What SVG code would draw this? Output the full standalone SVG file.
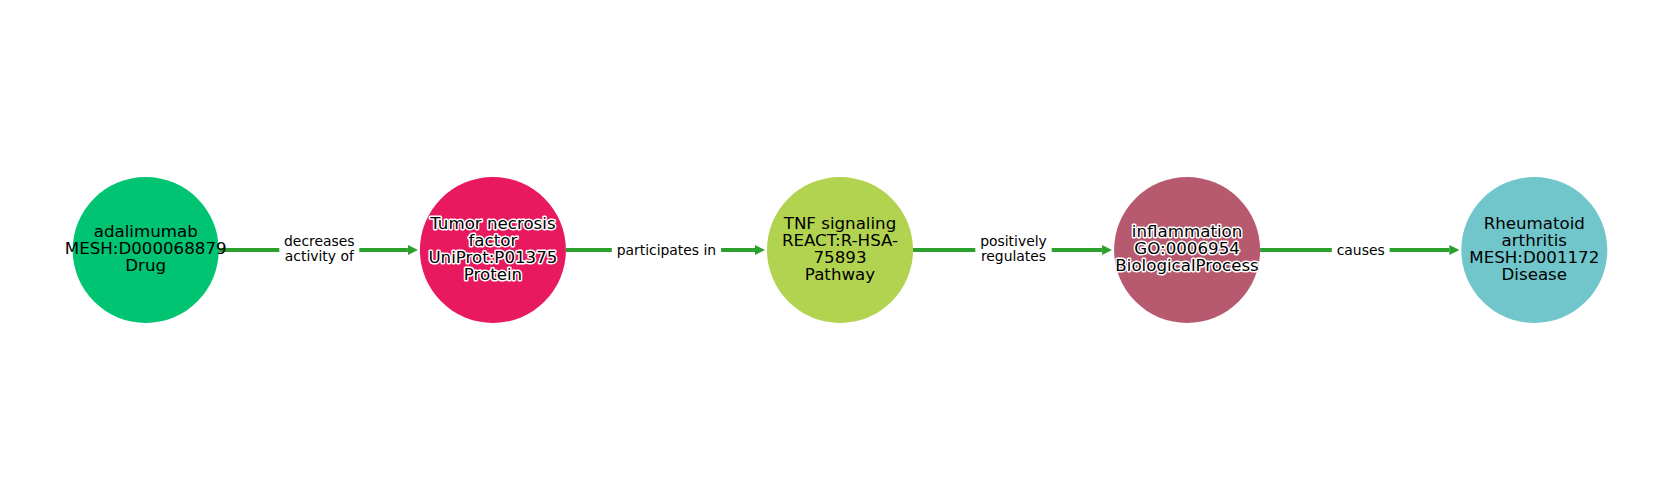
<svg xmlns="http://www.w3.org/2000/svg" width="1680" height="500" viewBox="0 0 1680 500">
<style>
.node-label{font-family:"DejaVu Sans","Liberation Sans",sans-serif;font-size:16.67px;fill:#000;text-anchor:middle}
.halo{stroke:#fff;stroke-width:3px;stroke-linejoin:round;paint-order:stroke}
.edge-line{stroke:#2ca02c;stroke-width:4;fill:none}
.edge-label{font-family:"DejaVu Sans","Liberation Sans",sans-serif;font-size:13.9px;fill:#000;text-anchor:middle}
.label-bg{fill:#fff}
</style>
<defs>
<marker id="arrow" markerUnits="userSpaceOnUse" markerWidth="10" markerHeight="10" refX="0" refY="5" orient="auto">
<path d="M0,0 L10,5 L0,10 z" fill="#2ca02c"/>
</marker>
</defs>
<rect width="1680" height="500" fill="#fff"/>
<g id="connectors">
<line class="edge-line" x1="218.7" y1="250" x2="407.9" y2="250" marker-end="url(#arrow)"/>
<line class="edge-line" x1="565.9" y1="250" x2="755" y2="250" marker-end="url(#arrow)"/>
<line class="edge-line" x1="913" y1="250" x2="1102.1" y2="250" marker-end="url(#arrow)"/>
<line class="edge-line" x1="1260.1" y1="250" x2="1449.3" y2="250" marker-end="url(#arrow)"/>
<g id="edge-label-1">
<rect class="label-bg" x="279.3" y="232" width="80" height="34"/>
<text class="edge-label" x="319.3" y="245.8">decreases</text>
<text class="edge-label" x="319.3" y="261">activity of</text>
</g>
<g id="edge-label-2">
<rect class="label-bg" x="611.8" y="240" width="109.3" height="20"/>
<text class="edge-label" x="666.4" y="254.8">participates in</text>
</g>
<g id="edge-label-3">
<rect class="label-bg" x="975.3" y="232" width="76.4" height="34"/>
<text class="edge-label" x="1013.5" y="245.8">positively</text>
<text class="edge-label" x="1013.5" y="261">regulates</text>
</g>
<g id="edge-label-4">
<rect class="label-bg" x="1331.8" y="240" width="57.8" height="20"/>
<text class="edge-label" x="1360.7" y="254.8">causes</text>
</g>
</g>
<g id="node-adalimumab">
<circle cx="145.7" cy="250" r="73" fill="#00c471"/>
<text class="node-label" x="145.7" y="237">adalimumab</text>
<text class="node-label" x="145.7" y="254.2">MESH:D000068879</text>
<text class="node-label" x="145.7" y="271.3">Drug</text>
</g>
<g id="node-tnf">
<circle cx="492.9" cy="250" r="73" fill="#e8195f"/>
<text class="node-label halo" x="492.9" y="228.5">Tumor necrosis</text>
<text class="node-label halo" x="492.9" y="245.6">factor</text>
<text class="node-label halo" x="492.9" y="262.7">UniProt:P01375</text>
<text class="node-label halo" x="492.9" y="279.8">Protein</text>
</g>
<g id="node-tnf-signaling">
<circle cx="840" cy="250" r="73" fill="#b2d34f"/>
<text class="node-label" x="840" y="228.5">TNF signaling</text>
<text class="node-label" x="840" y="245.6">REACT:R-HSA-</text>
<text class="node-label" x="840" y="262.7">75893</text>
<text class="node-label" x="840" y="279.8">Pathway</text>
</g>
<g id="node-inflammation">
<circle cx="1187.1" cy="250" r="73" fill="#b75a70"/>
<text class="node-label halo" x="1187.1" y="237">inflammation</text>
<text class="node-label halo" x="1187.1" y="254.2">GO:0006954</text>
<text class="node-label halo" x="1187.1" y="271.3">BiologicalProcess</text>
</g>
<g id="node-ra">
<circle cx="1534.3" cy="250" r="73" fill="#70c6cb"/>
<text class="node-label" x="1534.3" y="228.5">Rheumatoid</text>
<text class="node-label" x="1534.3" y="245.6">arthritis</text>
<text class="node-label" x="1534.3" y="262.7">MESH:D001172</text>
<text class="node-label" x="1534.3" y="279.8">Disease</text>
</g>
</svg>
